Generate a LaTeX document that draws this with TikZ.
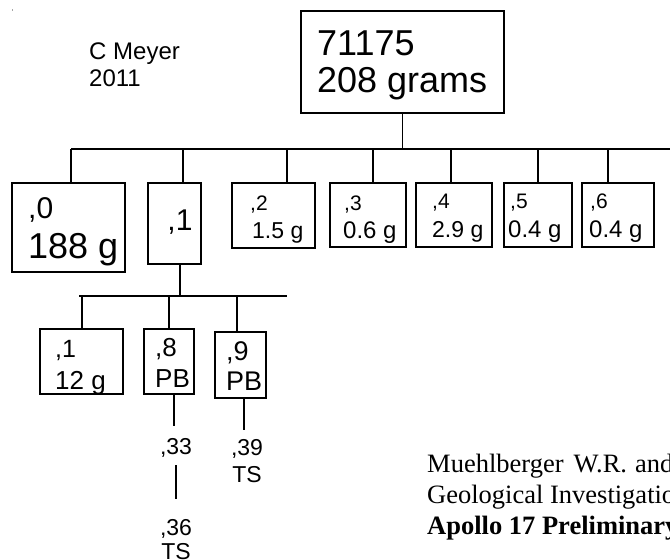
\documentclass[tikz,border=0pt]{standalone}
\usepackage{fontspec}
\setmainfont{Liberation Sans}
\newfontfamily\citefont{Liberation Serif}
\newcommand\fsz[1]{\fontsize{#1}{#1}\selectfont}
\begin{document}
\begin{tikzpicture}[x=1pt,y=-1pt,
  box/.style={draw, line width=1.3pt, inner sep=0pt},
  txt/.style={inner sep=0pt, anchor=base west},
  ctxt/.style={inner sep=0pt, anchor=base},
  wire/.style={line width=1.3pt}]
\useasboundingbox[fill=white] (0,0) rectangle (670,560);
\fill[gray!70] (11.5,9) rectangle (13,11);

% top
\node[box, minimum width=203, minimum height=102] (top) at (402.5,62) {};
\node[txt, font=\fsz{36}] (t1) at (317,55) {71175};
\node[txt, font=\fsz{36}] (t2) at (317,92) {208 grams};
\node[txt, font=\fsz{24}] (m1) at (89,59) {C Meyer};
\node[txt, font=\fsz{24}] (m2) at (89,86) {2011};

% first level boxes
\node[box, minimum width=113, minimum height=89] (b0) at (68.5,227.5) {};
\node[box, minimum width=53, minimum height=81] (b1) at (174.5,223.5) {};
\node[box, minimum width=83, minimum height=65] (b2) at (273.5,215.5) {};
\node[box, minimum width=76, minimum height=64] (b3) at (368,215) {};
\node[box, minimum width=76, minimum height=64] (b4) at (454,215) {};
\node[box, minimum width=68, minimum height=64] (b5) at (538,215) {};
\node[box, minimum width=72, minimum height=64] (b6) at (618,215) {};

\node[txt, font=\fsz{30}] (b0a) at (28,218) {,0};
\node[txt, font=\fsz{36}] (b0b) at (28,258) {188 g};
\node[ctxt, font=\fsz{30}] (b1a) at (180,230) {,1};
\node[txt, font=\fsz{21}] (b2a) at (250,210) {,2};
\node[txt, font=\fsz{23}] (b2b) at (252,238) {1.5 g};
\node[txt, font=\fsz{21}] (b3a) at (344,210) {,3};
\node[txt, font=\fsz{24}] (b3b) at (343,238) {0.6 g};
\node[txt, font=\fsz{21}] (b4a) at (432,208) {,4};
\node[txt, font=\fsz{23}] (b4b) at (432,237) {2.9 g};
\node[txt, font=\fsz{21}] (b5a) at (510,208) {,5};
\node[txt, font=\fsz{24}] (b5b) at (508,237) {0.4 g};
\node[txt, font=\fsz{21}] (b6a) at (590,208) {,6};
\node[txt, font=\fsz{24}] (b6b) at (589,237) {0.4 g};

% bus 1
\coordinate (busL) at (71,149);
\coordinate (busR) at (670,149);
\coordinate (j0) at (71,149);
\coordinate (j1) at (183,149);
\coordinate (j2) at (287,149);
\coordinate (j3) at (373,149);
\coordinate (j4) at (451,149);
\coordinate (j5) at (538,149);
\coordinate (j6) at (608,149);
\draw[wire] (top.south) -- (top.south |- busL);
\draw[wire] (busL) -- (busR);
\foreach \i in {0,...,6} \draw[wire] (j\i) -- (j\i |- b\i.north);

% second level
\node[box, minimum width=83, minimum height=65] (s1) at (81.5,361.5) {};
\node[box, minimum width=50, minimum height=65] (s8) at (169,361.5) {};
\node[box, minimum width=51, minimum height=66] (s9) at (240.5,365) {};
\node[txt, font=\fsz{25}] (s1a) at (55,357) {,1};
\node[txt, font=\fsz{26}] (s1b) at (55,389) {12 g};
\node[txt, font=\fsz{26}] (s8a) at (155,356) {,8};
\node[txt, font=\fsz{26}] (s8b) at (155,387) {PB};
\node[txt, font=\fsz{27}] (s9a) at (226,360) {,9};
\node[txt, font=\fsz{27}] (s9b) at (226,390) {PB};

\coordinate (c1) at (180,264);
\coordinate (sbL) at (79,296);
\coordinate (sbR) at (287,296);
\coordinate (k1) at (82,296);
\coordinate (k8) at (169,296);
\coordinate (k9) at (237,296);
\draw[wire] (c1 |- b1.south) -- (c1 |- sbL);
\draw[wire] (sbL) -- (sbR);
\draw[wire] (k1) -- (k1 |- s1.north);
\draw[wire] (k8) -- (k8 |- s8.north);
\draw[wire] (k9) -- (k9 |- s9.north);

% thin sections
\node[ctxt, font=\fsz{23}] (n33) at (176,454) {,33};
\node[ctxt, font=\fsz{23}] (n36) at (176,535) {,36};
\node[ctxt, font=\fsz{23}] (n36b) at (176,559) {TS};
\node[ctxt, font=\fsz{23}] (n39) at (247,455) {,39};
\node[ctxt, font=\fsz{23}] (n39b) at (247,482) {TS};

\coordinate (e8) at (174,426);
\coordinate (e33a) at (176,465);
\coordinate (e33b) at (176,499);
\coordinate (e9) at (244,430);
\draw[wire] (e8 |- s8.south) -- (e8);
\draw[wire] (e33a) -- (e33b);
\draw[wire] (e9 |- s9.south) -- (e9);

% citation
\node[txt, font=\citefont\fsz{26.5}] (r1) at (427,472) {Muehlberger\hspace{10pt}W.R.\hspace{8pt}and};
\node[txt, font=\citefont\fsz{26.5}] (r2) at (427,503) {Geological Investigations};
\node[txt, font=\citefont\bfseries\fsz{26.5}] (r3) at (427,534) {Apollo 17 Preliminary};
\end{tikzpicture}
\end{document}
